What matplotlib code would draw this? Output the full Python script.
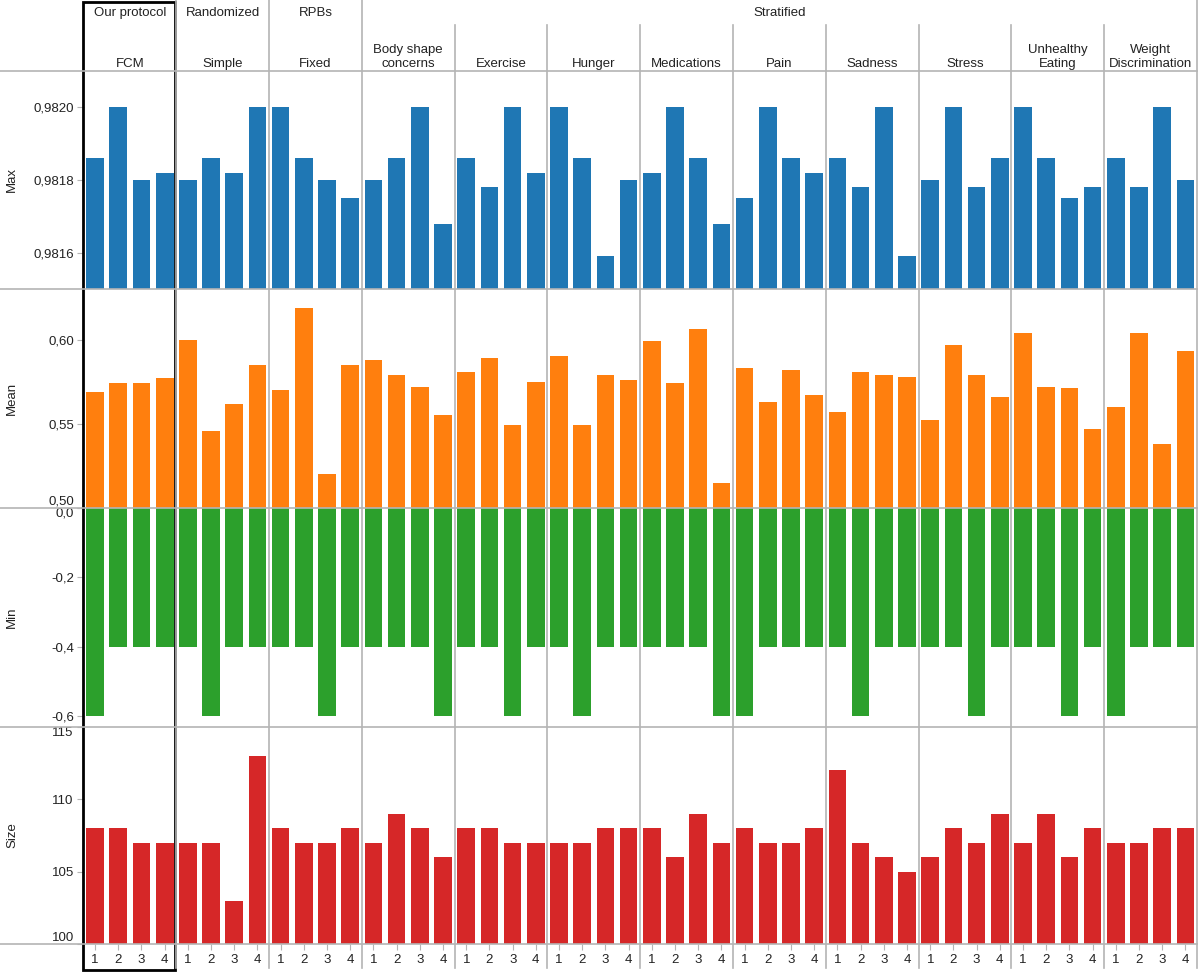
import matplotlib
matplotlib.use("Agg")
import matplotlib.pyplot as plt
from matplotlib.lines import Line2D
from matplotlib.patches import Rectangle
import numpy as np

plt.rcParams['font.family'] = ['Liberation Sans', 'DejaVu Sans']

# ---------------- data ----------------
top_groups = ["Our protocol", "Randomized", "RPBs", "Stratified"]
top_spans = [(0, 1), (1, 2), (2, 3), (3, 12)]
groups = ["FCM", "Simple", "Fixed", "Body shape\nconcerns", "Exercise", "Hunger",
          "Medications", "Pain", "Sadness", "Stress", "Unhealthy\nEating",
          "Weight\nDiscrimination"]
sub_labels = ["1", "2", "3", "4"]

max_vals = [
    0.98186, 0.98200, 0.98180, 0.98182,
    0.98180, 0.98186, 0.98182, 0.98200,
    0.98200, 0.98186, 0.98180, 0.98175,
    0.98180, 0.98186, 0.98200, 0.98168,
    0.98186, 0.98178, 0.98200, 0.98182,
    0.98200, 0.98186, 0.98159, 0.98180,
    0.98182, 0.98200, 0.98186, 0.98168,
    0.98175, 0.98200, 0.98186, 0.98182,
    0.98186, 0.98178, 0.98200, 0.98159,
    0.98180, 0.98200, 0.98178, 0.98186,
    0.98200, 0.98186, 0.98175, 0.98178,
    0.98186, 0.98178, 0.98200, 0.98180,
]
mean_vals = [
    0.569, 0.574, 0.574, 0.577,
    0.600, 0.546, 0.562, 0.585,
    0.570, 0.619, 0.520, 0.585,
    0.588, 0.579, 0.572, 0.555,
    0.581, 0.589, 0.549, 0.575,
    0.590, 0.549, 0.579, 0.576,
    0.599, 0.574, 0.606, 0.515,
    0.583, 0.563, 0.582, 0.567,
    0.557, 0.581, 0.579, 0.578,
    0.552, 0.597, 0.579, 0.566,
    0.604, 0.572, 0.571, 0.547,
    0.560, 0.604, 0.538, 0.593,
]
min_vals = [
    -0.6, -0.4, -0.4, -0.4,
    -0.4, -0.6, -0.4, -0.4,
    -0.4, -0.4, -0.6, -0.4,
    -0.4, -0.4, -0.4, -0.6,
    -0.4, -0.4, -0.6, -0.4,
    -0.4, -0.6, -0.4, -0.4,
    -0.4, -0.4, -0.4, -0.6,
    -0.6, -0.4, -0.4, -0.4,
    -0.4, -0.6, -0.4, -0.4,
    -0.4, -0.4, -0.6, -0.4,
    -0.4, -0.4, -0.6, -0.4,
    -0.6, -0.4, -0.4, -0.4,
]
size_vals = [
    108, 108, 107, 107,
    107, 107, 103, 113,
    108, 107, 107, 108,
    107, 109, 108, 106,
    108, 108, 107, 107,
    107, 107, 108, 108,
    108, 106, 109, 107,
    108, 107, 107, 108,
    112, 107, 106, 105,
    106, 108, 107, 109,
    107, 109, 106, 108,
    107, 107, 108, 108,
]

row_names = ["Max", "Mean", "Min", "Size"]
row_colors = ["#1f77b4", "#ff7f0e", "#2ca02c", "#d62728"]
row_ylims = [(0.9815, 0.9821), (0.50, 0.63), (-0.632, 0.0), (100, 115)]
row_ticks = [[0.9816, 0.9818, 0.9820], [0.50, 0.55, 0.60],
             [0.0, -0.2, -0.4, -0.6], [100, 105, 110, 115]]
row_fmt = ["{:.4f}", "{:.2f}", "{:.1f}", "{:.0f}"]
row_data = [max_vals, mean_vals, min_vals, size_vals]

# ---------------- layout ----------------
W, H = 1200, 973
fig = plt.figure(figsize=(W / 100, H / 100), dpi=100)


def fx(x):
    return x / W


def fy(y):
    return 1 - y / H


L, R = 83.5, 1197
rows = [(71, 289), (289, 508), (508, 727), (727, 944)]
n_groups = len(groups)
n_sub = len(sub_labels)
n_bars = n_groups * n_sub
xpos = np.arange(n_bars) + 0.5
grid_col = "#b4b4b4"
txt_col = "#222222"
fs = 9.5

for r, (top, bot) in enumerate(rows):
    ax = fig.add_axes([fx(L), fy(bot), fx(R) - fx(L), (bot - top) / H])
    ax.bar(xpos, row_data[r], width=0.76, color=row_colors[r], linewidth=0)
    ax.set_xlim(0, n_bars)
    ax.set_ylim(*row_ylims[r])
    for s in ax.spines.values():
        s.set_visible(False)
    ax.set_yticks(row_ticks[r])
    labels = [row_fmt[r].format(v).replace('.', ',') for v in row_ticks[r]]
    ax.set_yticklabels(labels)
    ax.tick_params(axis='y', length=5, color=grid_col, pad=2, labelsize=fs,
                   labelcolor=txt_col)
    lo, hi = row_ylims[r]
    for v, lab in zip(row_ticks[r], ax.get_yticklabels()):
        if abs(v - lo) < 1e-9:
            lab.set_va('bottom')
        elif abs(v - hi) < 1e-9:
            lab.set_va('top')
    if r == len(rows) - 1:
        ax.set_xticks(xpos)
        ax.set_xticklabels(sub_labels * n_groups)
        ax.tick_params(axis='x', length=4, color=grid_col, pad=3,
                       labelsize=fs, labelcolor=txt_col)
    else:
        ax.set_xticks([])
    fig.text(fx(12), fy((top + bot) / 2), row_names[r], rotation=90,
             ha='center', va='center', fontsize=fs, color=txt_col)

# horizontal panel lines
for y in [71, 289, 508, 727, 944]:
    fig.add_artist(Line2D([0, fx(R)], [fy(y), fy(y)], color=grid_col, lw=1.2))

# vertical group separators
gw = (R - L) / n_groups
top_bounds = {s for s, e in top_spans} | {e for s, e in top_spans}
for g in range(1, n_groups + 1):
    x = L + g * gw
    ystart = 0 if g in top_bounds else 25
    fig.add_artist(Line2D([fx(x), fx(x)], [fy(ystart), fy(968)], color=grid_col,
                          lw=1.2))

# header labels
for name, (s, e) in zip(top_groups, top_spans):
    cx = L + (s + e) / 2 * gw
    fig.text(fx(cx), fy(13), name, ha='center', va='center', fontsize=fs,
             color=txt_col)
for g, name in enumerate(groups):
    cx = L + (g + 0.5) * gw
    fig.text(fx(cx), fy(70), name, ha='center', va='bottom', fontsize=fs,
             color=txt_col, linespacing=1.2)

# black highlight box around "Our protocol"
fig.add_artist(Rectangle((fx(L - 0.5), fy(970)), fx(gw - 1), (970 - 2) / H,
                         fill=False, edgecolor='black', lw=2.0))

fig.savefig("out.png", dpi=100, facecolor='white')
